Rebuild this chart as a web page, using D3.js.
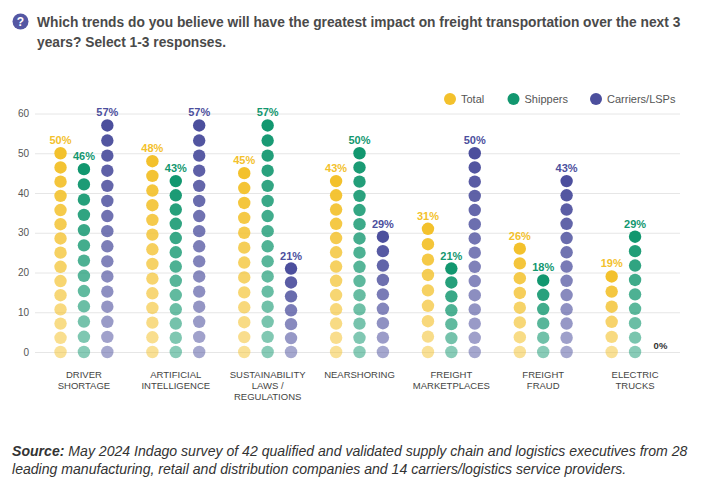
<!DOCTYPE html>
<html lang="en">
<head>
    <meta charset="UTF-8">
    <title>Freight Transportation Trends</title>
    <script src="https://d3js.org/d3.v7.min.js"></script>
    <style>
        body {
            margin: 0;
            background: #fff;
            font-family: "Helvetica Neue", Helvetica, Arial, "Liberation Sans", sans-serif;
        }

        .grid line {
            stroke: #e6e6e6;
            stroke-width: 1px;
        }

        .grid text {
            font-size: 10px;
            fill: #555;
        }

        .cat-label {
            font-size: 9.5px;
            fill: #444;
            text-anchor: middle;
        }

        .value-label {
            font-size: 11px;
            font-weight: bold;
            text-anchor: middle;
        }

        .legend text {
            font-size: 11px;
            fill: #555;
        }
    </style>
</head>
<body>

<svg id="chart"></svg>

<script>
    // Chart data
    const categories = [
        ["DRIVER", "SHORTAGE"],
        ["ARTIFICIAL", "INTELLIGENCE"],
        ["SUSTAINABILITY", "LAWS /", "REGULATIONS"],
        ["NEARSHORING"],
        ["FREIGHT", "MARKETPLACES"],
        ["FREIGHT", "FRAUD"],
        ["ELECTRIC", "TRUCKS"]
    ];
    const seriesNames = ["Total", "Shippers", "Carriers/LSPs"];
    const totalValues = [50, 48, 45, 43, 31, 26, 19];
    const shipperValues = [46, 43, 57, 50, 21, 18, 29];
    const carrierValues = [57, 57, 21, 29, 50, 43, 0];
    const yTicks = [0, 10, 20, 30, 40, 50, 60];

    const titleLines = [
        "Which trends do you believe will have the greatest impact on freight transportation over the next 3",
        "years? Select 1-3 responses."
    ];
    const sourceLines = [
        " May 2024 Indago survey of 42 qualified and validated supply chain and logistics executives from 28",
        "leading manufacturing, retail and distribution companies and 14 carriers/logistics service providers."
    ];

    const colors = ["#f3c12c", "#12976f", "#4c4f9d"];
    const seriesValues = [totalValues, shipperValues, carrierValues];

    const svgWidth = 702;
    const svgHeight = 496;
    const dotStep = 3.7;   // value units between stacked dots
    const dotRadius = 6.2;

    const svg = d3.select("#chart")
        .attr("width", svgWidth)
        .attr("height", svgHeight);

    // Title with icon
    svg.append("circle")
        .attr("cx", 20.5)
        .attr("cy", 21.5)
        .attr("r", 8)
        .attr("fill", "#5457a3");
    svg.append("text")
        .attr("x", 20.5)
        .attr("y", 26)
        .attr("text-anchor", "middle")
        .attr("fill", "#fff")
        .style("font-size", "12px")
        .style("font-weight", "bold")
        .text("?");

    const title = svg.append("text")
        .attr("fill", "#4a4a4a")
        .style("font-weight", "bold")
        .style("font-size", "14px");
    title.selectAll("tspan")
        .data(titleLines)
        .enter().append("tspan")
        .attr("x", 37)
        .attr("y", (d, i) => 27 + i * 20)
        .text(d => d);
    // fit first title line to the reference width
    const t1 = title.select("tspan").node().getComputedTextLength();
    title.style("font-size", (14 * 644 / t1) + "px");

    // Scales
    const x = d3.scaleBand()
        .domain(d3.range(categories.length))
        .range([38, 681]);

    const xSeries = d3.scalePoint()
        .domain(seriesNames)
        .range([-23.4, 23.4]);

    const y = d3.scaleLinear()
        .domain([0, 60])
        .range([352, 113.5]);

    // Grid and y axis
    svg.append("g")
        .attr("class", "grid")
        .attr("transform", "translate(35,0)")
        .call(d3.axisLeft(y).tickValues(yTicks).tickSize(-645).tickPadding(6))
        .call(g => g.select(".domain").remove())
        .call(g => g.selectAll("text").style("font-family", "inherit"));

    // Legend
    const legendX = [450, 513.5, 596];
    const legend = svg.append("g").attr("class", "legend");
    seriesNames.forEach((name, i) => {
        legend.append("circle")
            .attr("cx", legendX[i])
            .attr("cy", 99)
            .attr("r", 6)
            .attr("fill", colors[i]);
        legend.append("text")
            .attr("x", legendX[i] + 11)
            .attr("y", 103)
            .text(name);
    });

    // Dot columns
    seriesNames.forEach((name, s) => {
        seriesValues[s].forEach((v, c) => {
            const cx = x(c) + x.bandwidth() / 2 + xSeries(name);
            if (v === 0) {
                svg.append("text")
                    .attr("x", cx + 2)
                    .attr("y", y(0) - 3)
                    .attr("text-anchor", "middle")
                    .attr("fill", "#333")
                    .style("font-size", "9.5px")
                    .style("font-weight", "bold")
                    .text(v + "%");
                return;
            }
            const n = Math.round(v / dotStep) + 1;
            const dots = d3.range(n).map(i => v * i / (n - 1));
            svg.append("g")
                .selectAll("circle")
                .data(dots)
                .enter().append("circle")
                .attr("cx", cx)
                .attr("cy", d => y(d))
                .attr("r", dotRadius)
                .attr("fill", colors[s])
                .attr("fill-opacity", (d, i) => 0.5 + 0.5 * i / (n - 1));

            svg.append("text")
                .attr("class", "value-label")
                .attr("x", cx)
                .attr("y", y(v) - 9)
                .attr("fill", colors[s])
                .text(v + "%");
        });
    });

    // Category labels
    categories.forEach((lines, c) => {
        const t = svg.append("text")
            .attr("class", "cat-label");
        t.selectAll("tspan")
            .data(lines)
            .enter().append("tspan")
            .attr("x", x(c) + x.bandwidth() / 2)
            .attr("y", (d, i) => 377.5 + i * 11)
            .text(d => d);
    });

    // Source note
    const source = svg.append("text")
        .attr("fill", "#333")
        .style("font-style", "italic")
        .style("font-size", "12px");
    const s1 = source.append("tspan").attr("x", 12).attr("y", 456);
    s1.append("tspan").style("font-weight", "bold").text("Source:");
    s1.append("tspan").text(sourceLines[0]);
    source.append("tspan").attr("x", 12).attr("y", 474).text(sourceLines[1]);
    // fit first source line to the reference width
    const lineW = s1.node().getBBox().width;
    source.style("font-size", (12 * 676 / lineW) + "px");
</script>

</body>
</html>
